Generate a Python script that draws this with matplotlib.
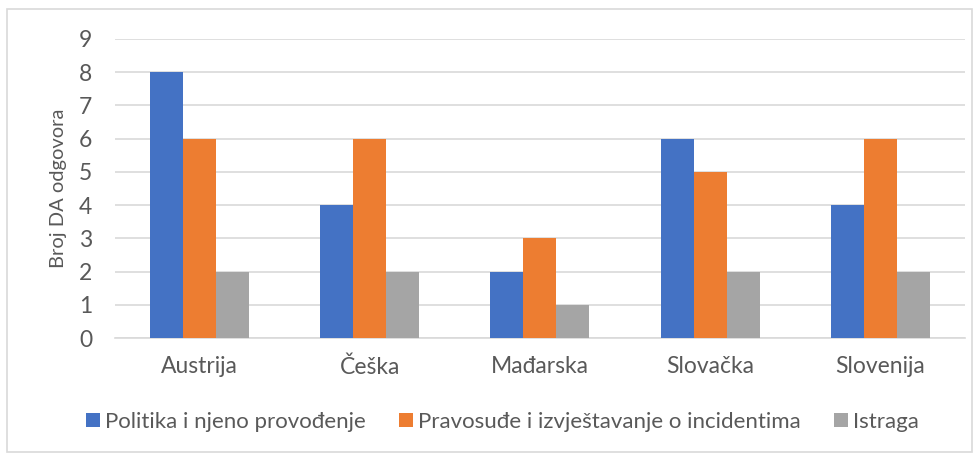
import numpy as np
import matplotlib.pyplot as plt
from matplotlib.patches import Rectangle

plt.rcParams['font.family'] = ['Lato', 'DejaVu Sans']

countries = ['Austrija', 'Češka', 'Mađarska', 'Slovačka', 'Slovenija']
series_names = ['Politika i njeno provođenje',
                'Pravosuđe i izvještavanje o incidentima',
                'Istraga']
politika = [8, 4, 2, 6, 4]
pravosude = [6, 6, 3, 5, 6]
istraga = [2, 2, 1, 2, 2]
colors = ['#4472C4', '#ED7D31', '#A5A5A5']
text_color = '#595959'

fig = plt.figure(figsize=(9.8, 4.57), dpi=100)
ax = fig.add_axes([0.117, 0.26, 0.868, 0.655])

x = np.arange(len(countries))
w = 0.194
for i, (vals, name) in enumerate(zip([politika, pravosude, istraga], series_names)):
    ax.bar(x + (i - 1) * w, vals, w, color=colors[i], label=name, zorder=3)

ax.set_xlim(-0.5, len(countries) - 0.5)
ax.set_ylim(0, 9)
ax.set_yticks(range(10))
ax.set_xticks(x)
ax.set_xticklabels(countries)
ax.tick_params(axis='both', length=0, colors=text_color, labelsize=16.5)
ax.tick_params(axis='x', pad=13)
ax.tick_params(axis='y', pad=16)
ax.grid(axis='y', color='#D9D9D9', linewidth=1.2, zorder=0)
for s in ['top', 'right', 'left']:
    ax.spines[s].set_visible(False)
ax.spines['bottom'].set_color('#D9D9D9')
ax.spines['bottom'].set_linewidth(1.2)
ax.set_ylabel('Broj DA odgovora', fontsize=14.5, color=text_color, labelpad=9)

fig.legend(loc='center', bbox_to_anchor=(0.513, 0.077), ncol=3, frameon=False,
           fontsize=16, handlelength=0.6, handleheight=0.6, handletextpad=0.25,
           columnspacing=1.5, labelcolor=text_color)

fig.patches.append(Rectangle((0.007, 0.012), 0.985, 0.968, transform=fig.transFigure,
                             fill=False, edgecolor='#D9D9D9', linewidth=1.2))

fig.savefig('out.png', dpi=100)
